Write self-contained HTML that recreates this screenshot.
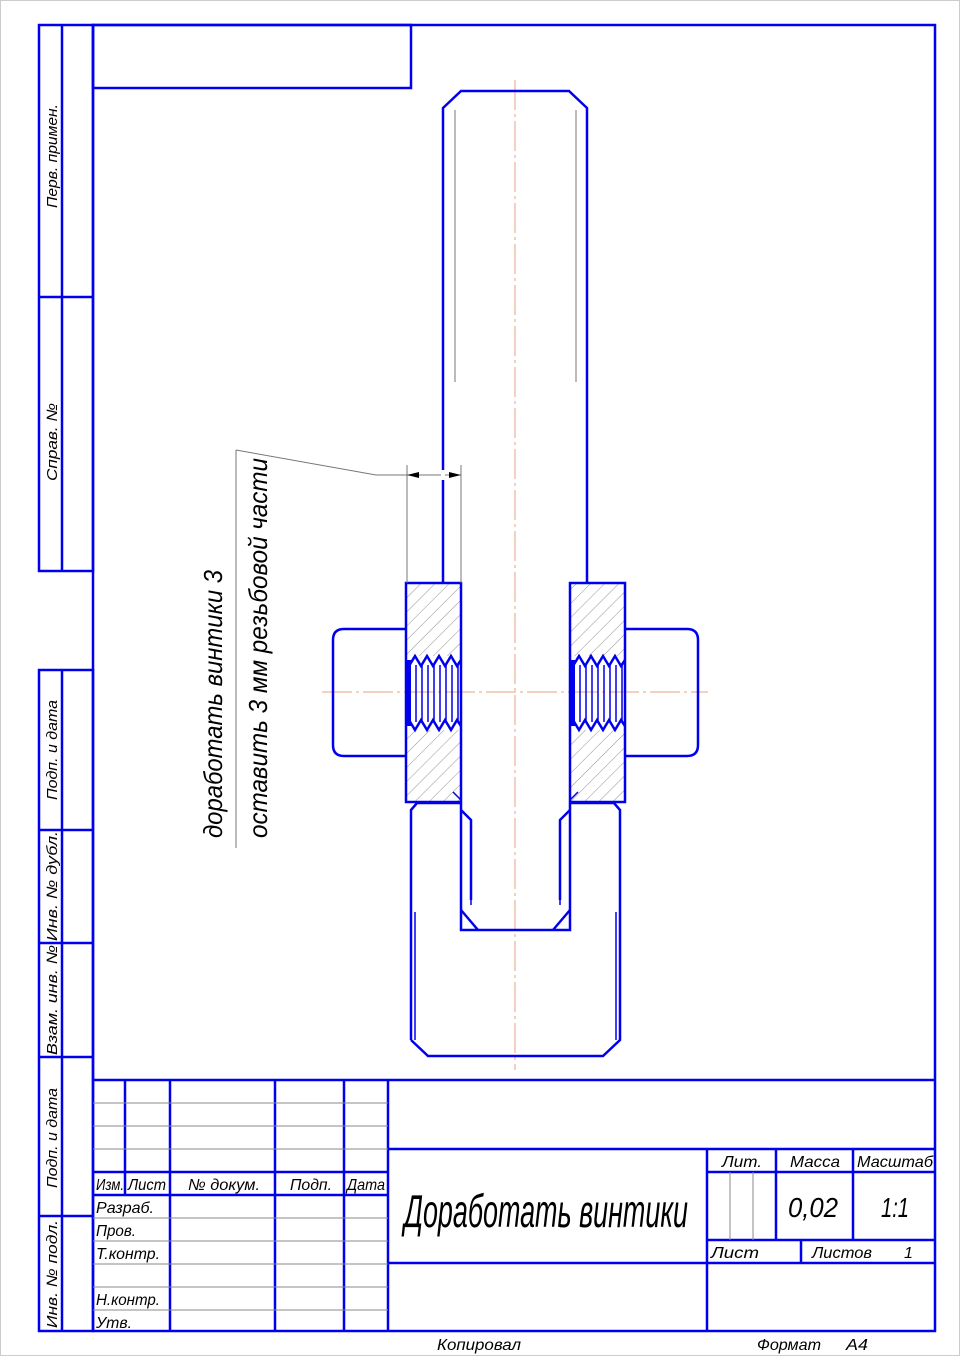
<!DOCTYPE html>
<html><head><meta charset="utf-8"><style>
html,body{margin:0;padding:0;background:#fff}
svg{display:block}
text{font-family:"Liberation Sans",sans-serif;font-style:italic;fill:#000}
</style></head><body>
<svg width="960" height="1356" viewBox="0 0 960 1356" xmlns="http://www.w3.org/2000/svg">
<defs>
<pattern id="h" patternUnits="userSpaceOnUse" width="10" height="10" patternTransform="rotate(45)">
<line x1="0" y1="0" x2="0" y2="10" stroke="#777" stroke-width="0.8"/>
</pattern>
</defs>
<rect x="0.5" y="0.5" width="959" height="1355" fill="none" stroke="#ccc"/>
<g stroke="#0000ee" fill="none" stroke-width="2.5">
<!-- main frame -->
<rect x="93" y="25" width="842" height="1306"/>
<rect x="93" y="25" width="318" height="63"/>
<!-- left strip -->
<rect x="39" y="25" width="54" height="546"/>
<line x1="62" y1="25" x2="62" y2="571"/>
<line x1="39" y1="297" x2="93" y2="297"/>
<rect x="39" y="670" width="54" height="661"/>
<line x1="62" y1="670" x2="62" y2="1331"/>
<line x1="39" y1="830" x2="93" y2="830"/>
<line x1="39" y1="943" x2="93" y2="943"/>
<line x1="39" y1="1057" x2="93" y2="1057"/>
<line x1="39" y1="1216" x2="93" y2="1216"/>
<!-- title block -->
<line x1="93" y1="1080" x2="935" y2="1080"/>
<line x1="125" y1="1080" x2="125" y2="1195"/>
<line x1="170" y1="1080" x2="170" y2="1331"/>
<line x1="275" y1="1080" x2="275" y2="1331"/>
<line x1="344" y1="1080" x2="344" y2="1331"/>
<line x1="388" y1="1080" x2="388" y2="1331"/>
<line x1="93" y1="1172" x2="388" y2="1172"/>
<line x1="93" y1="1195" x2="388" y2="1195"/>
<line x1="388" y1="1149" x2="935" y2="1149"/>
<line x1="388" y1="1263" x2="935" y2="1263"/>
<line x1="707" y1="1149" x2="707" y2="1331"/>
<line x1="707" y1="1172" x2="935" y2="1172"/>
<line x1="776" y1="1149" x2="776" y2="1240"/>
<line x1="853" y1="1149" x2="853" y2="1240"/>
<line x1="707" y1="1240" x2="935" y2="1240"/>
<line x1="801" y1="1240" x2="801" y2="1263"/>
</g>
<g stroke="#888" stroke-width="1">
<line x1="93" y1="1103" x2="388" y2="1103"/>
<line x1="93" y1="1126" x2="388" y2="1126"/>
<line x1="93" y1="1149" x2="388" y2="1149"/>
<line x1="93" y1="1218" x2="388" y2="1218"/>
<line x1="93" y1="1241" x2="388" y2="1241"/>
<line x1="93" y1="1264" x2="388" y2="1264"/>
<line x1="93" y1="1287" x2="388" y2="1287"/>
<line x1="93" y1="1310" x2="388" y2="1310"/>
<line x1="730" y1="1172" x2="730" y2="1240"/>
<line x1="753" y1="1172" x2="753" y2="1240"/>
</g>
<!-- centerlines -->
<g stroke="#e8a080" stroke-width="1" stroke-dasharray="30,4,3,4">
<line x1="515" y1="80" x2="515" y2="1070"/>
<line x1="322" y1="692" x2="708" y2="692"/>
</g>
<!-- hatch sections -->
<rect x="406" y="583" width="55" height="73" fill="url(#h)"/>
<rect x="406" y="730" width="55" height="72" fill="url(#h)"/>
<rect x="570" y="583" width="55" height="73" fill="url(#h)"/>
<rect x="570" y="730" width="55" height="72" fill="url(#h)"/>
<g stroke="#0000ee" fill="none" stroke-width="2.5">
<!-- bolt top -->
<path d="M443 583 V108 L461 91 H569 L587 108 V583"/>
<!-- nuts -->
<rect x="406" y="583" width="55" height="219"/>
<rect x="570" y="583" width="55" height="219"/>
<path d="M406 629 H344 Q333 629 333 640 V745 Q333 756 344 756 H406"/>
<path d="M625 629 H687 Q698 629 698 640 V745 Q698 756 687 756 H625"/>
<!-- threads -->
<path d="M409 666 l6 -10 l6 10 l6 -10 l6 10 l6 -10 l6 10 l6 -10 l6 10 l4 -6"/>
<path d="M573 666 l6 -10 l6 10 l6 -10 l6 10 l6 -10 l6 10 l6 -10 l6 10 l4 -6"/>
<path d="M409 720 l6 10 l6 -10 l6 10 l6 -10 l6 10 l6 -10 l6 10 l6 -10 l4 6"/>
<path d="M573 720 l6 10 l6 -10 l6 10 l6 -10 l6 10 l6 -10 l6 10 l6 -10 l4 6"/>
<line x1="409" y1="660" x2="409" y2="726" stroke-width="4"/>
<line x1="573" y1="660" x2="573" y2="726" stroke-width="4"/>
<!-- lower body -->
<path d="M411 1040 V810 l6 -7 H461 M570 803 H614 l6 7 V1040 L603 1056 H428 L411 1040"/>
<path d="M461 803 V930 H570 V803"/>
<path d="M461 810 l10 10 V900 M570 810 l-10 10 V900"/>
<path d="M461 910 l17 20 M570 910 l-17 20"/>
<path d="M461 800 l-8 -8 M570 800 l8 -8" stroke-width="1.5"/>
<line x1="415" y1="912" x2="415" y2="1040" stroke-width="1.5"/>
<line x1="616" y1="912" x2="616" y2="1040" stroke-width="1.5"/>
<line x1="471" y1="820" x2="471" y2="905" stroke-width="1.5"/>
<line x1="560" y1="820" x2="560" y2="905" stroke-width="1.5"/>
</g>
<g stroke="#0000ee" stroke-width="1.5">
<line x1="416" y1="665" x2="416" y2="722"/><line x1="422" y1="665" x2="422" y2="722"/><line x1="428" y1="665" x2="428" y2="722"/><line x1="434" y1="665" x2="434" y2="722"/><line x1="440" y1="665" x2="440" y2="722"/><line x1="446" y1="665" x2="446" y2="722"/><line x1="452" y1="665" x2="452" y2="722"/><line x1="458" y1="665" x2="458" y2="722"/>
<line x1="580" y1="665" x2="580" y2="722"/><line x1="586" y1="665" x2="586" y2="722"/><line x1="592" y1="665" x2="592" y2="722"/><line x1="598" y1="665" x2="598" y2="722"/><line x1="604" y1="665" x2="604" y2="722"/><line x1="610" y1="665" x2="610" y2="722"/><line x1="616" y1="665" x2="616" y2="722"/><line x1="622" y1="665" x2="622" y2="722"/>
</g>
<!-- thin lines bolt -->
<g stroke="#777" stroke-width="1" fill="none">
<line x1="455" y1="110" x2="455" y2="382"/>
<line x1="576" y1="110" x2="576" y2="382"/>
<line x1="407" y1="465" x2="407" y2="583"/>
<line x1="461" y1="465" x2="461" y2="583"/>
<polyline points="236,450 376,475 407,475"/>
<line x1="236" y1="450" x2="236" y2="848"/>
<line x1="407" y1="475" x2="461" y2="475"/>
</g>
<path d="M407 475 l12 -3 v6 z M461 475 l-12 -3 v6 z" fill="#000"/>
<rect x="441" y="470" width="4" height="10" fill="#fff"/>
<!-- annotation text -->
<text transform="translate(222,838) rotate(-90)" font-size="26" textLength="268" lengthAdjust="spacingAndGlyphs">доработать винтики 3</text>
<text transform="translate(267,838) rotate(-90)" font-size="26" textLength="380" lengthAdjust="spacingAndGlyphs">оставить 3 мм резьбовой части</text>
<!-- strip labels -->
<g font-size="15">
<text transform="translate(57,208) rotate(-90)" textLength="104" lengthAdjust="spacingAndGlyphs">Перв. примен.</text>
<text transform="translate(57,481) rotate(-90)" textLength="78" lengthAdjust="spacingAndGlyphs">Справ. №</text>
<text transform="translate(57,800) rotate(-90)" textLength="100" lengthAdjust="spacingAndGlyphs">Подп. и дата</text>
<text transform="translate(57,941) rotate(-90)" textLength="110" lengthAdjust="spacingAndGlyphs">Инв. № дубл.</text>
<text transform="translate(57,1055) rotate(-90)" textLength="110" lengthAdjust="spacingAndGlyphs">Взам. инв. №</text>
<text transform="translate(57,1188) rotate(-90)" textLength="100" lengthAdjust="spacingAndGlyphs">Подп. и дата</text>
<text transform="translate(57,1328) rotate(-90)" textLength="108" lengthAdjust="spacingAndGlyphs">Инв. № подл.</text>
</g>
<g font-size="16">
<text x="96" y="1190" textLength="28" lengthAdjust="spacingAndGlyphs">Изм.</text>
<text x="128" y="1190" textLength="38" lengthAdjust="spacingAndGlyphs">Лист</text>
<text x="188" y="1190" textLength="72" lengthAdjust="spacingAndGlyphs">№ докум.</text>
<text x="290" y="1190" textLength="42" lengthAdjust="spacingAndGlyphs">Подп.</text>
<text x="347" y="1190" textLength="38" lengthAdjust="spacingAndGlyphs">Дата</text>
<text x="96" y="1213" textLength="58" lengthAdjust="spacingAndGlyphs">Разраб.</text>
<text x="96" y="1236" textLength="40" lengthAdjust="spacingAndGlyphs">Пров.</text>
<text x="96" y="1259" textLength="64" lengthAdjust="spacingAndGlyphs">Т.контр.</text>
<text x="96" y="1305" textLength="64" lengthAdjust="spacingAndGlyphs">Н.контр.</text>
<text x="96" y="1328" textLength="36" lengthAdjust="spacingAndGlyphs">Утв.</text>
<text x="722" y="1167" textLength="40" lengthAdjust="spacingAndGlyphs">Лит.</text>
<text x="790" y="1167" textLength="50" lengthAdjust="spacingAndGlyphs">Масса</text>
<text x="857" y="1167" textLength="76" lengthAdjust="spacingAndGlyphs">Масштаб</text>
<text x="711" y="1258" textLength="48" lengthAdjust="spacingAndGlyphs">Лист</text>
<text x="812" y="1258" textLength="60" lengthAdjust="spacingAndGlyphs">Листов</text>
<text x="904" y="1258">1</text>
<text x="437" y="1350" textLength="84" lengthAdjust="spacingAndGlyphs">Копировал</text>
<text x="757" y="1350" textLength="64" lengthAdjust="spacingAndGlyphs">Формат</text>
<text x="846" y="1350" textLength="22" lengthAdjust="spacingAndGlyphs">А4</text>
</g>
<text x="788" y="1217" font-size="28" textLength="50" lengthAdjust="spacingAndGlyphs">0,02</text>
<text x="881" y="1217" font-size="28" textLength="28" lengthAdjust="spacingAndGlyphs">1:1</text>
<text x="404" y="1227" font-size="46" textLength="284" lengthAdjust="spacingAndGlyphs">Доработать винтики</text>
</svg>
</body></html>
